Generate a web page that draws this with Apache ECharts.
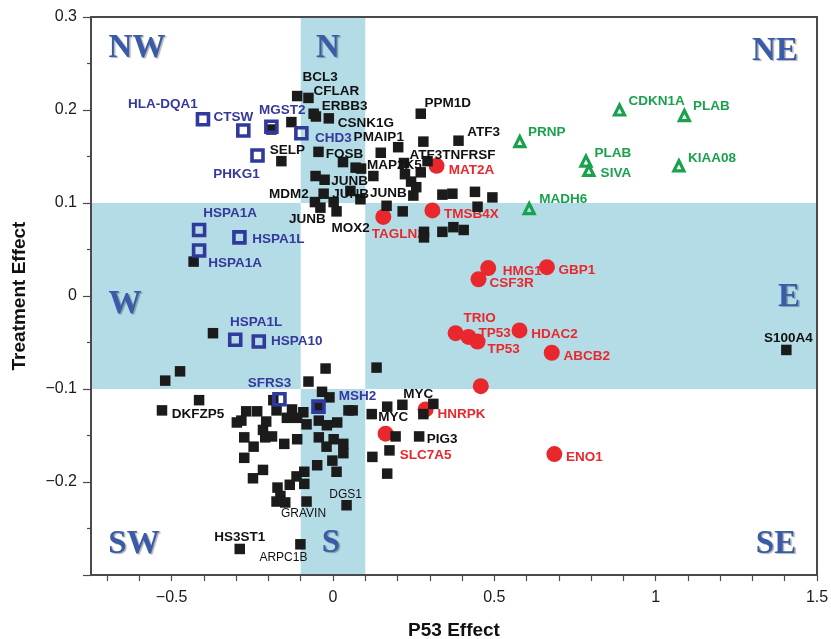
<!DOCTYPE html>
<html><head><meta charset="utf-8">
<script src="https://cdn.jsdelivr.net/npm/echarts@6/dist/echarts.min.js"></script>
<style>html,body{margin:0;padding:0;background:#fff}#c{width:831px;height:639px}</style>
</head><body><div id="c"></div>
<script>
// ---- axis ticks / labels ----
const xTickValues = [-0.7,-0.6,-0.5,-0.4,-0.3,-0.2,-0.1,0,0.1,0.2,0.3,0.4,0.5,0.6,0.7,0.8,0.9,1,1.1,1.2,1.3,1.4,1.5];
const xTickLabels = [-0.5,0,0.5,1,1.5];
const yTickLabels = [-0.2,-0.1,0,0.1,0.2,0.3];
const xRange = [-0.75, 1.5];
const yRange = [-0.3, 0.3];
const bandHalf = 0.1;
const quadrantNames = ['NW','N','NE','W','E','SW','S','SE'];

// ---- red circles ----
const redNames = ['MAT2A','TMSB4X','TAGLN2','HMG1','CSF3R','GBP1','TRIO','TP53','TP53','HDAC2','ABCB2','','HNRPK','SLC7A5','ENO1'];
const redX = [0.321,0.308,0.156,0.481,0.451,0.663,0.380,0.420,0.448,0.578,0.678,0.458,0.287,0.163,0.686];
const redY = [0.140,0.092,0.085,0.030,0.018,0.031,-0.040,-0.044,-0.049,-0.037,-0.061,-0.097,-0.122,-0.148,-0.170];

// ---- green triangles ----
const greenNames = ['CDKN1A','PLAB','PRNP','PLAB','SIVA','KIAA08','MADH6'];
const greenX = [0.888,1.089,0.579,0.784,0.793,1.072,0.608];
const greenY = [0.200,0.194,0.166,0.145,0.135,0.140,0.094];

// ---- blue open squares ----
const blueNames = ['HLA-DQA1','CTSW','MGST2','CHD3','PHKG1','HSPA1A','HSPA1L','HSPA1A','HSPA1L','HSPA10','SFRS3','MSH2'];
const blueX = [-0.403,-0.278,-0.191,-0.098,-0.234,-0.415,-0.290,-0.415,-0.303,-0.230,-0.166,-0.045];
const blueY = [0.190,0.178,0.182,0.175,0.151,0.071,0.063,0.049,-0.047,-0.049,-0.111,-0.119];

// ---- black squares ----
const blackX = [-0.111,-0.076,-0.060,-0.053,-0.013,-0.129,-0.191,-0.045,-0.160,0.031,
  0.070,0.087,0.125,0.148,0.202,0.272,0.280,0.389,0.293,0.272,
  0.220,0.223,0.242,0.258,0.249,0.339,0.370,0.440,0.494,0.448,
  0.216,0.166,-0.054,-0.026,-0.029,-0.056,-0.039,0.002,0.011,0.054,
  0.085,0.282,0.282,0.339,0.373,0.405,-0.432,-0.372,-0.474,-0.520,
  -0.415,-0.530,-0.023,0.135,-0.076,-0.034,-0.011,-0.185,-0.044,-0.269,
  -0.235,-0.175,-0.127,-0.092,0.048,0.061,0.120,0.168,0.215,0.311,
  0.280,-0.298,-0.284,-0.207,-0.143,-0.111,-0.082,-0.044,-0.019,0.013,
  -0.217,-0.275,-0.210,-0.189,-0.044,0.002,0.194,0.267,-0.246,-0.151,
  -0.111,-0.020,0.032,0.175,0.032,-0.275,0.122,-0.002,-0.049,0.168,
  -0.217,-0.248,-0.089,-0.113,0.011,-0.172,-0.134,-0.089,-0.163,-0.175,
  -0.148,-0.082,0.042,-0.289,-0.101,1.405];
const blackY = [0.215,0.213,0.196,0.193,0.191,0.187,0.179,0.155,0.145,0.144,
  0.138,0.137,0.129,0.154,0.160,0.196,0.166,0.167,0.145,0.133,
  0.143,0.131,0.123,0.117,0.108,0.109,0.110,0.112,0.106,0.096,
  0.091,0.097,0.129,0.125,0.110,0.101,0.095,0.101,0.091,0.113,
  0.104,0.069,0.063,0.069,0.074,0.071,0.037,-0.040,-0.081,-0.091,
  -0.112,-0.123,-0.078,-0.077,-0.092,-0.103,-0.109,-0.112,-0.119,-0.124,
  -0.124,-0.123,-0.122,-0.125,-0.123,-0.123,-0.127,-0.119,-0.117,-0.116,
  -0.127,-0.136,-0.134,-0.135,-0.131,-0.131,-0.138,-0.134,-0.139,-0.136,
  -0.144,-0.152,-0.152,-0.151,-0.152,-0.154,-0.151,-0.151,-0.162,-0.159,
  -0.154,-0.162,-0.159,-0.166,-0.169,-0.174,-0.173,-0.177,-0.182,-0.191,
  -0.187,-0.196,-0.189,-0.194,-0.189,-0.206,-0.203,-0.202,-0.215,-0.221,
  -0.222,-0.221,-0.225,-0.272,-0.267,-0.058];
const blackLabelIndex = [0,1,2,4,7,8,12,13,15,17,18,33,34,35,36,38,39,51,67,68,87,111,112,113,114,115];
const blackLabelText = ['BCL3','CFLAR','ERBB3','CSNK1G','FOSB','SELP','MAP2K5','PMAIP1','PPM1D','ATF3','ATF3TNFRSF',
  'JUNB','JUNB','MDM2','JUNB','MOX2','JUNB','DKFZP5','MYC','MYC','PIG3','GRAVIN','DGS1','HS3ST1','ARPC1B','S100A4'];
const lightLabels = ['GRAVIN','DGS1','ARPC1B'];

// ---- label placement (pixel offsets from the mark centre; style only) ----
const redOffsets = [[35,4],[39,4],[15,17],[34,3],[33,4],[30,3],[24,-15],[26,-4],[26,8],[35,4],[35,4],null,[36,5],[40,22],[30,3]];
const greenOffsets = [[37,-9],[27,-9],[27,-9],[27,-8],[27,3],[33,-8],[34,-9]];
const blueOffsets = [[-40,-15],[-10,-13],[11,-16],[32,5],[-21,19],[31,-17],[39,2],[36,13],[21,-17],[38,0],[-10,-16],[39,-10]];
const blackOffsets = [[23,-19],[28,-7],[31,-7],[37,5],[26,2],[6,-11],[21,-11],[-2,-15],[27,-10],[25,-8],[25,-6],
  [25,2],[27,1],[-26,-8],[-13,12],[14,17],[38,2],[36,4],[6,11],[16,-11],[23,3],[-3,12],[-1,-11],[0,-12],[-17,13],[2,-12]];

const FONT = '"Liberation Sans", Arial, sans-serif';
function lbl(text, off, color, light) {
  if (!text || !off) return {show:false};
  return {show:true, position:'inside', offset:off, formatter:text, color:color, opacity:1,
    textBorderWidth:0, fontSize: light?12:13.5, fontWeight: light?'normal':'bold', fontFamily:FONT};
}
function build(xs, ys, names, offs, color) {
  return xs.map((x,i)=>({value:[x,ys[i]], name:names[i]||'', label:lbl(names[i], offs[i], color, false)}));
}
const blackData = blackX.map((x,i)=>{
  const k = blackLabelIndex.indexOf(i);
  const t = k>=0 ? blackLabelText[k] : '';
  return {value:[x,blackY[i]], name:t, label: k>=0 ? lbl(t, blackOffsets[k], '#111', lightLabels.includes(t)) : {show:false}};
});

const bandColor = '#b4dce6';
const bands = [
  [{xAxis:-bandHalf, yAxis:bandHalf},{xAxis:bandHalf, yAxis:yRange[1]}],
  [{xAxis:-bandHalf, yAxis:yRange[0]},{xAxis:bandHalf, yAxis:-bandHalf}],
  [{xAxis:xRange[0], yAxis:-bandHalf},{xAxis:-bandHalf, yAxis:bandHalf}],
  [{xAxis:bandHalf, yAxis:-bandHalf},{xAxis:xRange[1], yAxis:bandHalf}]
];

const fmt = v => (Math.abs(v)<1e-9 ? '0' : String(+v.toFixed(2)).replace('-','\u2212'));
const axisCol = '#4a4a4a';

const quadPos = {NW:[137,48],N:[328,48],NE:[775,51],W:[125,304],E:[789,297],SW:[134,544],S:[331,543],SE:[776,544]};

const chart = echarts.init(document.getElementById('c'), null, {renderer:'canvas'});
chart.setOption({
  animation:false,
  backgroundColor:'#fff',
  grid:{left:91, right:14, top:17, bottom:64, containLabel:false, outerBoundsMode:'none'},
  xAxis:[{
    type:'value', min:xRange[0], max:xRange[1], position:'bottom', z:10,
    axisLine:{show:true, onZero:false, lineStyle:{color:axisCol, width:2}},
    axisTick:{show:true, customValues:xTickValues, length:6, lineStyle:{color:axisCol, width:1.2}},
    axisLabel:{customValues:xTickLabels, formatter:fmt, fontSize:16, color:'#1a1a1a', margin:15, fontFamily:FONT},
    splitLine:{show:false},
    name:'P53 Effect', nameLocation:'middle', nameGap:46,
    nameTextStyle:{fontSize:19, fontWeight:'bold', color:'#111', fontFamily:FONT}
  },{
    type:'value', min:xRange[0], max:xRange[1], position:'top', z:10,
    axisLine:{show:true, onZero:false, lineStyle:{color:axisCol, width:2}},
    axisTick:{show:false}, axisLabel:{show:false}, splitLine:{show:false}
  }],
  yAxis:[{
    type:'value', min:yRange[0], max:yRange[1], interval:0.1, position:'left', z:10,
    axisLine:{show:true, onZero:false, lineStyle:{color:axisCol, width:2}},
    axisTick:{show:true, length:8, lineStyle:{color:axisCol, width:1.2}},
    minorTick:{show:true, splitNumber:2, length:4, lineStyle:{color:axisCol, width:1.2}},
    axisLabel:{customValues:yTickLabels, formatter:fmt, fontSize:16, color:'#1a1a1a', margin:14, fontFamily:FONT},
    splitLine:{show:false}, minorSplitLine:{show:false},
    name:'Treatment Effect', nameLocation:'middle', nameGap:62, nameRotate:90,
    nameTextStyle:{fontSize:19, fontWeight:'bold', color:'#111', fontFamily:FONT}
  },{
    type:'value', min:yRange[0], max:yRange[1], position:'right', z:10,
    axisLine:{show:true, onZero:false, lineStyle:{color:axisCol, width:2}},
    axisTick:{show:false}, axisLabel:{show:false}, splitLine:{show:false}
  }],
  graphic: quadrantNames.map(q=>({
    type:'text', x:quadPos[q][0], y:quadPos[q][1], z:20, silent:true,
    style:{text:q, align:'center', verticalAlign:'middle', fill:'#3a5ba8',
      font:'bold 33px "Liberation Serif", "Times New Roman", serif',
      textShadowColor:'rgba(0,0,0,0.3)', textShadowOffsetX:1.5, textShadowOffsetY:1.5, textShadowBlur:1}
  })),
  series:[
    {type:'scatter', name:'bands', z:1, data:[], silent:true,
      markArea:{silent:true, itemStyle:{color:bandColor, borderWidth:0, opacity:1}, label:{show:false}, data:bands}},
    {type:'scatter', name:'red', z:2, symbol:'circle', symbolSize:16,
      itemStyle:{color:'#e8282c', opacity:1}, data:build(redX, redY, redNames, redOffsets, '#e8282c')},
    {type:'scatter', name:'black', z:3, symbol:'rect', symbolSize:10.5,
      itemStyle:{color:'#1b1b1b', opacity:1}, data:blackData},
    {type:'scatter', name:'green', z:4, symbol:'triangle', symbolSize:10,
      itemStyle:{color:'rgba(255,255,255,0)', borderColor:'#1aa14d', borderWidth:3.2, opacity:1},
      data:build(greenX, greenY, greenNames, greenOffsets, '#1aa14d')},
    {type:'scatter', name:'blue', z:5, symbol:'rect', symbolSize:11,
      itemStyle:{color:'rgba(255,255,255,0)', borderColor:'#2f3a9c', borderWidth:3.6, opacity:1},
      data:build(blueX, blueY, blueNames, blueOffsets, '#34399b')}
  ]
});
</script></body></html>
